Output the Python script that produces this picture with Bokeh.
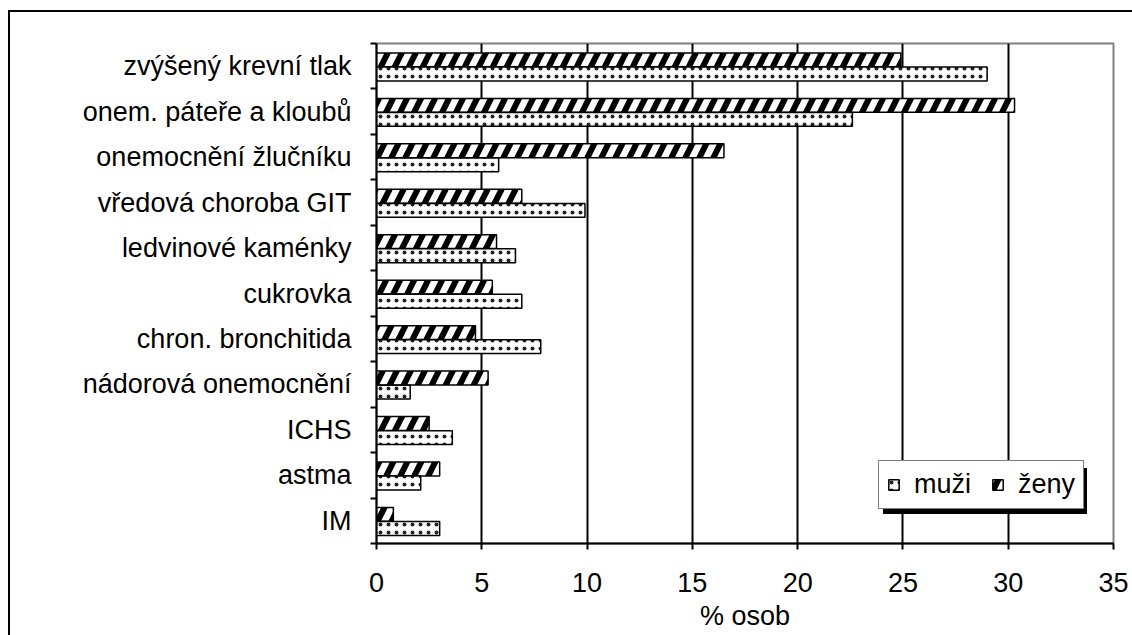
from bokeh.plotting import figure
from bokeh.models import (ColumnDataSource, FixedTicker, Legend, LegendItem, Range1d)
from bokeh.embed import file_html
from bokeh.resources import INLINE

# Diseases, listed from top to bottom
categories = ["zvýšený krevní tlak", "onem. páteře a kloubů", "onemocnění žlučníku",
              "vředová choroba GIT", "ledvinové kaménky", "cukrovka",
              "chron. bronchitida", "nádorová onemocnění", "ICHS", "astma", "IM"]
zeny = [24.9, 30.3, 16.5, 6.9, 5.7, 5.5, 4.7, 5.3, 2.5, 3.0, 0.8]
muzi = [29.0, 22.6, 5.8, 9.9, 6.6, 6.9, 7.8, 1.6, 3.6, 2.1, 3.0]
x_ticks = [0, 5, 10, 15, 20, 25, 30, 35]

FONT = "Liberation Sans"
n = len(categories)
centers = [n - i - 0.5 for i in range(n)]

src = ColumnDataSource(dict(
    cat=categories,
    y_z=[c + 0.14 for c in centers],
    y_m=[c - 0.17 for c in centers],
    zeny=zeny,
    muzi=muzi,
))

# Chart-area frame and legend shadow are painted as the page background
# behind a transparent canvas.
bg = ", ".join([
    "linear-gradient(#000,#000) 8px 10px / 2px 2000px no-repeat",
    "linear-gradient(#000,#000) 8px 10px / 2000px 2px no-repeat",
    "linear-gradient(#000,#000) 883px 468px / 204px 46px no-repeat",
    "#fff",
])

p = figure(width=1132, height=635, output_backend="svg", toolbar_location=None,
           x_range=Range1d(0, 35), y_range=Range1d(0, n),
           min_border_left=376, min_border_right=19,
           min_border_top=43, min_border_bottom=92,
           styles={"background": bg})
p.background_fill_alpha = 0
p.border_fill_alpha = 0
p.outline_line_color = "#808080"
p.outline_line_width = 2

bh = 0.305
r_z = p.hbar(y="y_z", right="zeny", left=0, height=bh, source=src,
             fill_color="white", line_color="black", line_width=1.5,
             hatch_pattern="/", hatch_color="black", hatch_scale=28, hatch_weight=6)
r_m = p.hbar(y="y_m", right="muzi", left=0, height=bh, source=src,
             fill_color="white", line_color="black", line_width=1.5,
             hatch_pattern="dot", hatch_color="#222222", hatch_scale=8, hatch_weight=2.4)

# x axis
xa = p.xaxis[0]
xa.ticker = FixedTicker(ticks=x_ticks)
xa.axis_line_color = "black"
xa.axis_line_width = 2
xa.major_tick_line_color = "black"
xa.major_tick_line_width = 2
xa.major_tick_in = 0
xa.major_tick_out = 6
xa.minor_tick_line_color = None
xa.major_label_text_font = FONT
xa.major_label_text_font_size = "27px"
xa.major_label_text_color = "black"
xa.major_label_standoff = 23
xa.axis_label = "% osob"
xa.axis_label_text_font = FONT
xa.axis_label_text_font_size = "27px"
xa.axis_label_text_font_style = "normal"
xa.axis_label_text_color = "black"
xa.axis_label_standoff = 6

# y axis: labels at band centres, ticks on band boundaries
ya = p.yaxis[0]
ya.ticker = FixedTicker(ticks=centers, minor_ticks=list(range(n + 1)))
ya.major_label_overrides = {c: lab for c, lab in zip(centers, categories)}
ya.axis_line_color = "black"
ya.axis_line_width = 2
ya.major_tick_line_color = None
ya.major_tick_in = 0
ya.major_tick_out = 0
ya.minor_tick_line_color = "black"
ya.minor_tick_line_width = 2
ya.minor_tick_in = 0
ya.minor_tick_out = 6
ya.major_label_text_font = FONT
ya.major_label_text_font_size = "27px"
ya.major_label_text_color = "black"
ya.major_label_standoff = 19

p.xgrid.ticker = FixedTicker(ticks=[5, 10, 15, 20, 25, 30])
p.xgrid.grid_line_color = "black"
p.xgrid.grid_line_width = 2
p.ygrid.grid_line_color = None

legend = Legend(items=[LegendItem(label="muži", renderers=[r_m]),
                       LegendItem(label="ženy", renderers=[r_z])],
                orientation="horizontal", location=(502, 34),
                label_text_font=FONT, label_text_font_size="27px",
                label_text_color="black",
                glyph_width=13, glyph_height=13, label_standoff=14,
                spacing=20, padding=8, margin=0,
                border_line_color="black", border_line_width=1.5,
                background_fill_color="white", background_fill_alpha=1)
p.add_layout(legend)

open("out.html", "w").write(file_html(p, INLINE))
